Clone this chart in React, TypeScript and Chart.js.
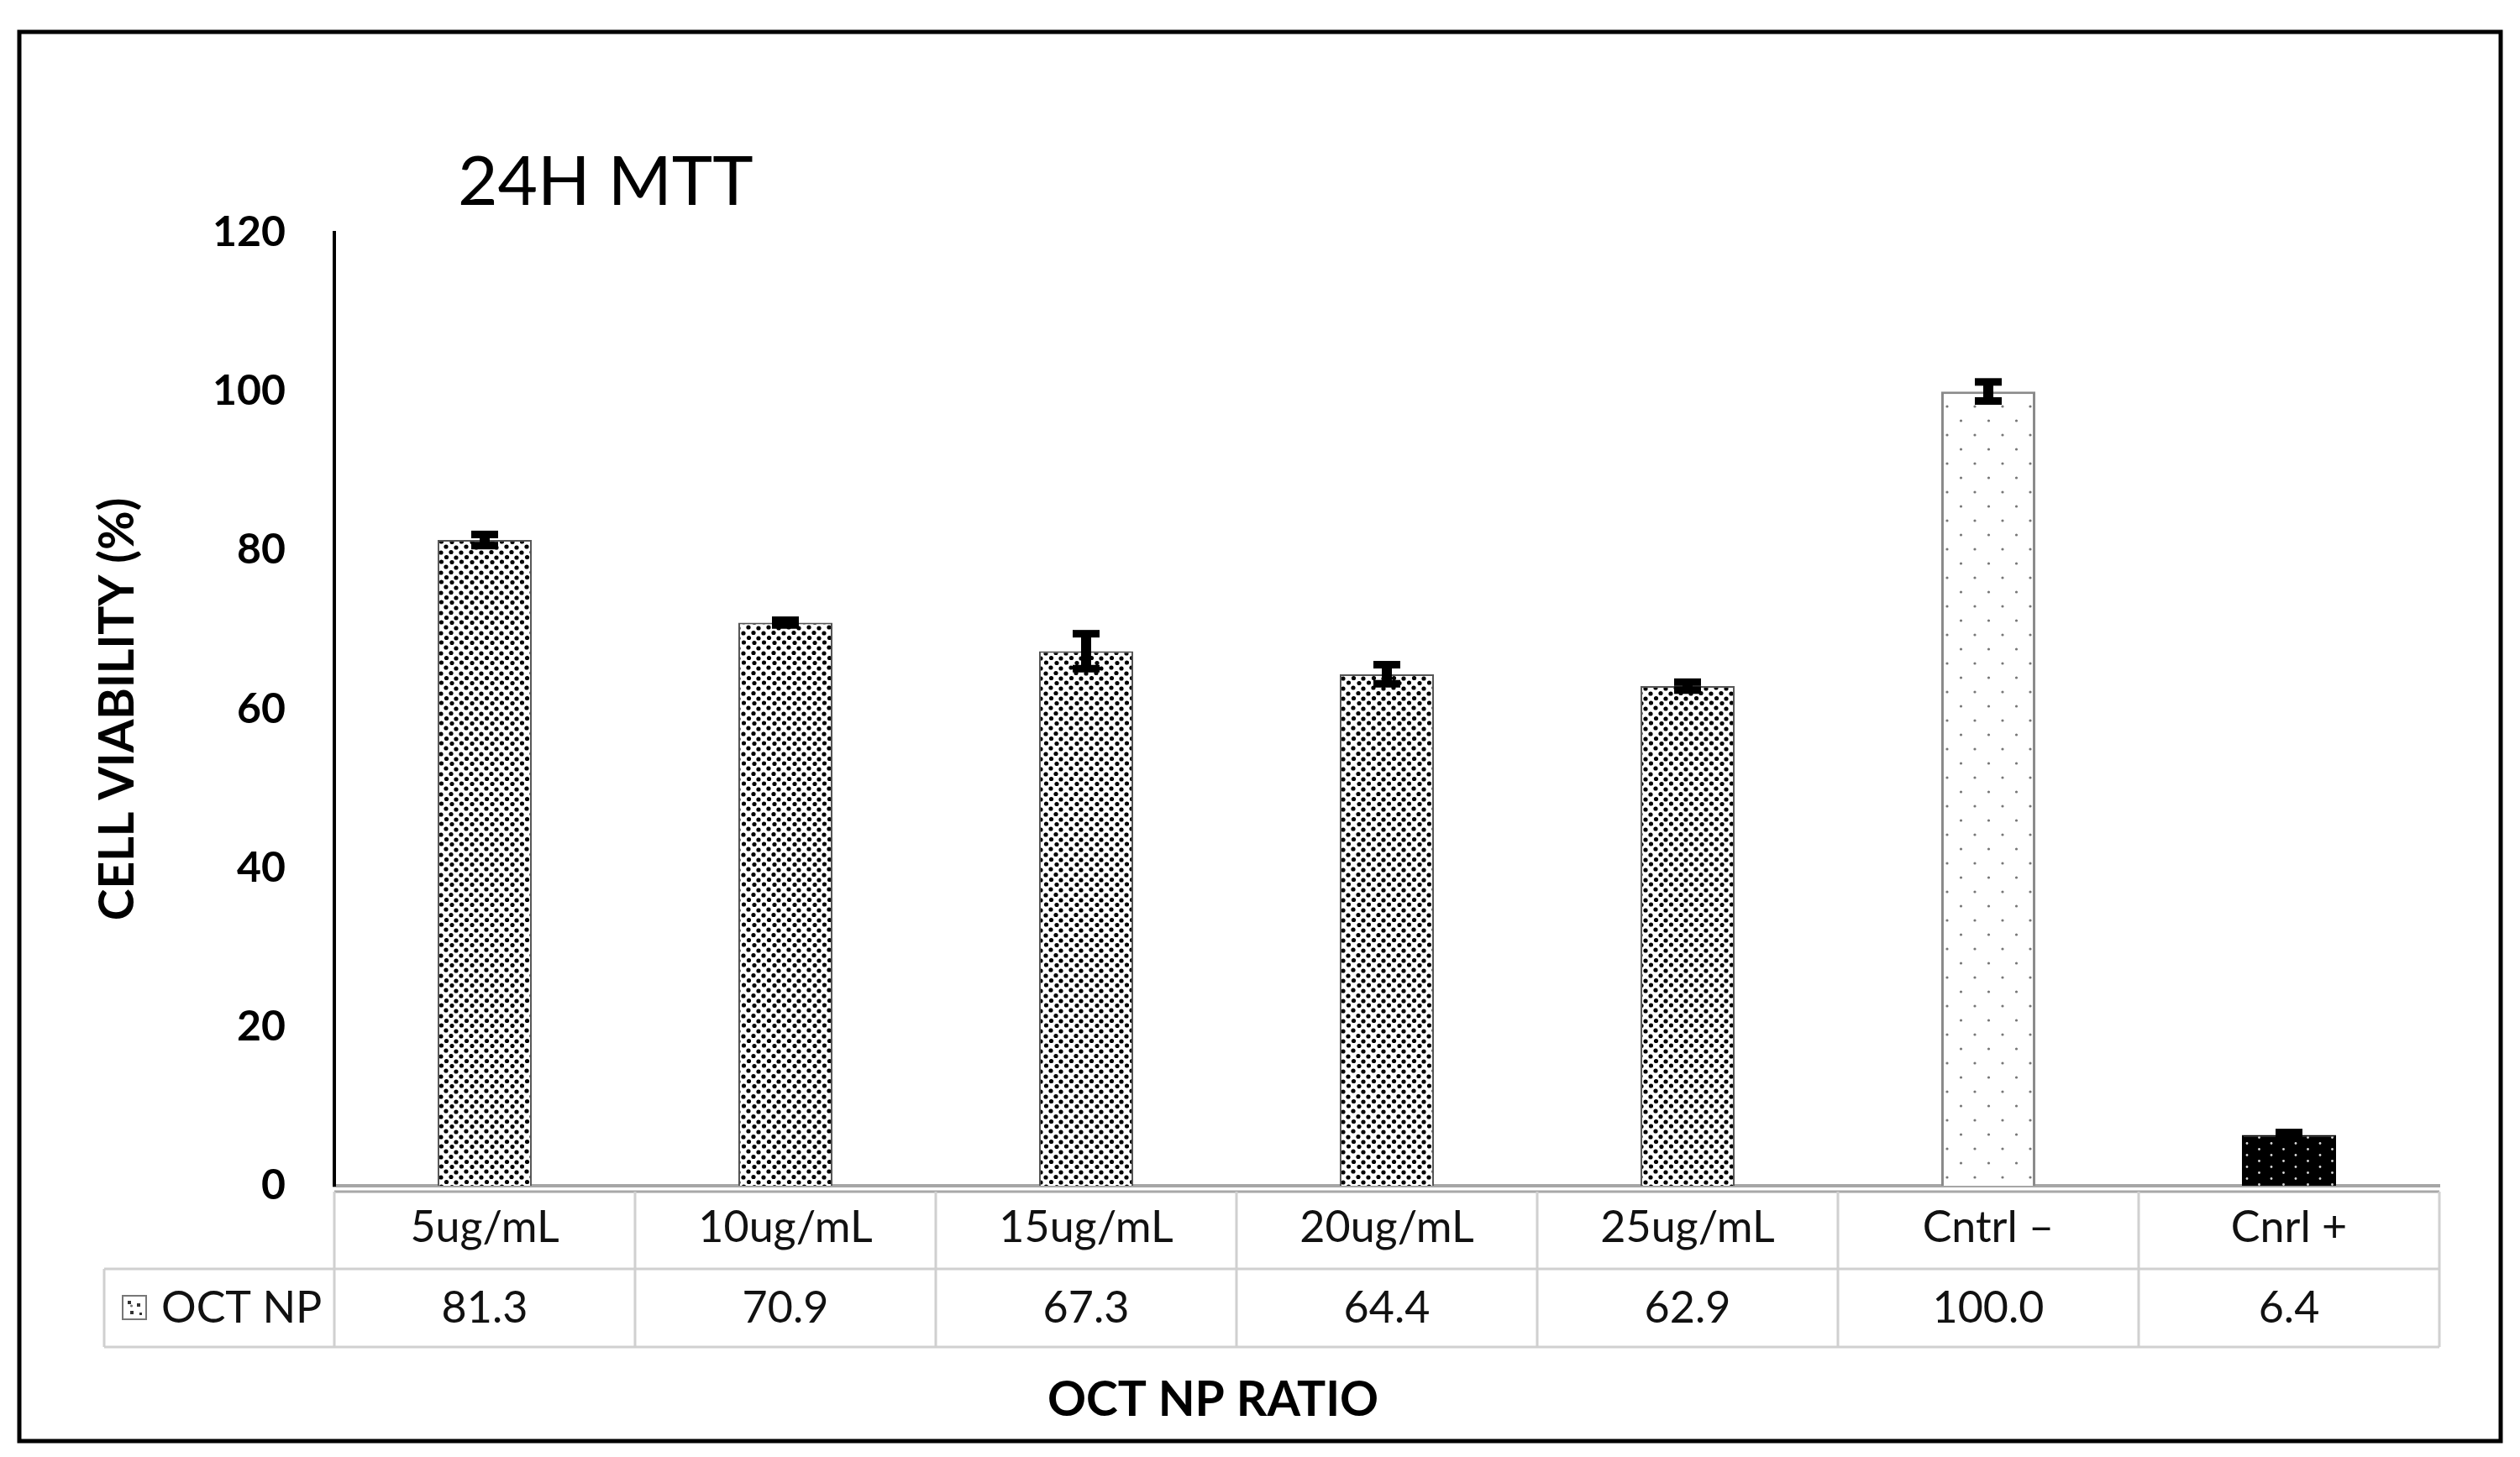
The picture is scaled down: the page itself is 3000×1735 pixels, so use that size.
import React, { useEffect, useRef } from 'react';
import { Chart, registerables } from 'chart.js';

Chart.register(...registerables);

// ---- data ----
const categories = ['5ug/mL', '10ug/mL', '15ug/mL', '20ug/mL', '25ug/mL', 'Cntrl –', 'Cnrl +'];
const viability = [81.3, 70.9, 67.3, 64.4, 62.9, 100.0, 6.4];
const errorValues = [0.7, 0.3, 2.2, 1.2, 0.5, 1.2, 0.3];
const seriesName = 'OCT NP';
const chartTitle = '24H MTT';
const xAxisTitle = 'OCT NP RATIO';
const yAxisTitle = 'CELL VIABILITY (%)';
const yMin = 0;
const yMax = 120;
const yStep = 20;
const fillKinds = ['dense', 'dense', 'dense', 'dense', 'dense', 'sparse', 'dark'];

const FONT = 'Lato';

function makePattern(kind: string): CanvasPattern | string {
  const c = document.createElement('canvas');
  let w = 24, h = 24;
  if (kind === 'sparse') { w = 33; h = 34; }
  if (kind === 'dark') { w = 29; h = 14; }
  c.width = w; c.height = h;
  const g = c.getContext('2d');
  if (!g) return '#888';
  const dot = (x: number, y: number, r: number) => {
    g.beginPath(); g.arc(x, y, r, 0, Math.PI * 2); g.fill();
  };
  if (kind === 'dense') {
    g.fillStyle = '#fff'; g.fillRect(0, 0, w, h);
    g.fillStyle = '#000';
    const pts = [[3, 3], [15, 4], [9, 9.5], [21, 10], [3.5, 15.5], [15, 16], [10, 21.5], [21.5, 21]];
    pts.forEach(([x, y]) => dot(x, y, 2.6));
  } else if (kind === 'sparse') {
    g.fillStyle = '#fff'; g.fillRect(0, 0, w, h);
    g.fillStyle = '#777';
    dot(8, 8, 1.6); dot(24.5, 25, 1.6);
  } else {
    g.fillStyle = '#000'; g.fillRect(0, 0, w, h);
    g.fillStyle = '#d8d8d8';
    dot(7, 3.5, 1.4); dot(21.5, 10.5, 1.4);
  }
  const p = g.createPattern(c, 'repeat');
  return p || '#888';
}

const framePlugin = {
  id: 'frame',
  beforeDraw(chart: any) {
    const ctx = chart.ctx;
    ctx.save();
    ctx.fillStyle = '#fff';
    ctx.fillRect(0, 0, chart.width, chart.height);
    ctx.strokeStyle = '#000';
    ctx.lineWidth = 5;
    ctx.strokeRect(23, 38, 2954, 1678);
    // title
    ctx.fillStyle = '#000';
    ctx.font = `82px ${FONT}`;
    ctx.textAlign = 'left';
    ctx.textBaseline = 'alphabetic';
    ctx.fillText(chartTitle, 545, 244);
    ctx.restore();
  },
};

const errorPlugin = {
  id: 'errs',
  afterDatasetsDraw(chart: any) {
    const ctx = chart.ctx;
    const ys = chart.scales.y;
    const meta = chart.getDatasetMeta(0);
    ctx.save();
    ctx.fillStyle = '#000';
    meta.data.forEach((el: any, i: number) => {
      const v = viability[i];
      const e = errorValues[i];
      const yt = ys.getPixelForValue(v + e);
      const yb = ys.getPixelForValue(v - e);
      const x = el.x;
      ctx.fillRect(x - 6, yt, 12, yb - yt);
      ctx.fillRect(x - 16, yt - 4.5, 32, 9);
      ctx.fillRect(x - 16, yb - 4.5, 32, 9);
    });
    ctx.restore();
  },
};

const tablePlugin = {
  id: 'table',
  afterDraw(chart: any) {
    const ctx = chart.ctx;
    const xs = chart.scales.x;
    const area = chart.chartArea;
    const n = categories.length;
    const step = (area.right - area.left) / n;
    const top1 = 1419;
    const mid = 1511;
    const bot = 1604;
    const leftCol = 124;
    ctx.save();
    ctx.lineWidth = 3;
    ctx.beginPath();
    ctx.strokeStyle = '#a8a8a8';
    ctx.moveTo(area.left, top1); ctx.lineTo(area.right, top1);
    ctx.stroke();
    ctx.strokeStyle = '#d0d0d0';
    ctx.beginPath();
    ctx.moveTo(leftCol, mid); ctx.lineTo(area.right, mid);
    ctx.moveTo(leftCol, bot); ctx.lineTo(area.right, bot);
    ctx.moveTo(leftCol, mid); ctx.lineTo(leftCol, bot);
    for (let i = 0; i <= n; i++) {
      const x = area.left + i * step;
      ctx.moveTo(x, top1); ctx.lineTo(x, bot);
    }
    ctx.stroke();
    // values row
    ctx.fillStyle = '#111';
    ctx.font = `52px ${FONT}`;
    ctx.textAlign = 'center';
    ctx.textBaseline = 'middle';
    viability.forEach((v, i) => {
      ctx.fillText(v.toFixed(1), xs.getPixelForValue(i), 1558);
    });
    // legend key
    const key = makePattern('sparse');
    ctx.fillStyle = key as any;
    ctx.fillRect(146, 1543, 28, 28);
    ctx.strokeStyle = '#777';
    ctx.lineWidth = 2;
    ctx.strokeRect(146, 1543, 28, 28);
    ctx.fillStyle = '#333';
    ctx.fillRect(152, 1549, 4, 4);
    ctx.fillRect(163, 1552, 4, 4);
    ctx.fillRect(155, 1561, 4, 4);
    ctx.fillRect(166, 1563, 3, 3);
    ctx.fillStyle = '#111';
    ctx.textAlign = 'left';
    ctx.fillText(seriesName, 192, 1558);
    // x axis title
    ctx.fillStyle = '#000';
    ctx.font = `bold 57px ${FONT}`;
    ctx.textAlign = 'center';
    ctx.fillText(xAxisTitle, 1444, 1668);
    ctx.restore();
  },
};

export default function App() {
  const ref = useRef<HTMLCanvasElement | null>(null);
  useEffect(() => {
    document.body.style.margin = '0';
    const canvas = ref.current;
    if (!canvas) return;
    const fills = fillKinds.map((k) => makePattern(k));
    const borders = fillKinds.map((k) => (k === 'sparse' ? '#8a8a8a' : k === 'dark' ? '#000' : '#555'));
    const bw = fillKinds.map((k) => (k === 'sparse' ? 3 : 2));
    const chart = new Chart(canvas, {
      type: 'bar',
      data: {
        labels: categories,
        datasets: [
          {
            label: seriesName,
            data: viability,
            backgroundColor: fills as any,
            borderColor: borders,
            borderWidth: bw,
            barPercentage: 0.313,
            categoryPercentage: 1,
          },
        ],
      },
      options: {
        responsive: false,
        animation: false,
        devicePixelRatio: 1,
        layout: { padding: { top: 277, right: 96, bottom: 0, left: 0 } },
        plugins: {
          legend: { display: false },
          tooltip: { enabled: false },
          title: { display: false },
        },
        scales: {
          x: {
            grid: { display: false, drawTicks: false },
            border: { display: true, color: '#a6a6a6', width: 4 },
            ticks: {
              font: { family: FONT, size: 52 },
              color: '#111',
              padding: 19,
              maxRotation: 0,
              autoSkip: false,
            },
            title: { display: false },
            afterFit: (s: any) => { s.height = 323; },
          },
          y: {
            min: yMin,
            max: yMax,
            ticks: {
              stepSize: yStep,
              font: { family: FONT, size: 50, weight: 'bold' },
              color: '#000',
              padding: 58,
            },
            grid: { display: false, drawTicks: false },
            border: { display: true, color: '#000', width: 4 },
            title: {
              display: true,
              text: yAxisTitle,
              font: { family: FONT, size: 57, weight: 'bold' },
              color: '#000',
              padding: { top: 106, bottom: 0 },
            },
            afterFit: (s: any) => { s.width = 398; },
          },
        },
      } as any,
      plugins: [framePlugin, errorPlugin, tablePlugin],
    });
    return () => chart.destroy();
  }, []);
  return (
    <canvas
      ref={ref}
      width={3000}
      height={1735}
      style={{ display: 'block', width: 3000, height: 1735 }}
    />
  );
}
